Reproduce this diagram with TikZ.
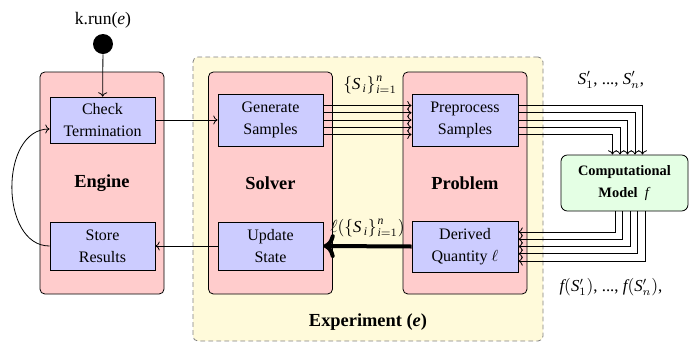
\documentclass[tikz,border=0pt]{standalone}
\usepackage{fontspec}
\setmainfont{Liberation Serif}
\usetikzlibrary{calc,arrows.meta}
\definecolor{cpink}{RGB}{255,204,204}
\definecolor{cblue}{RGB}{204,204,255}
\definecolor{cyel}{RGB}{255,250,218}
\definecolor{cgreen}{RGB}{228,255,228}
\def\pxu{0.625pt}
\newcommand{\supn}{^{\raisebox{1pt}{$\scriptstyle\mathit{n}$}}}
\begin{document}
\begin{tikzpicture}[x=0.625pt,y=-0.625pt,
  every node/.style={font=\fontsize{10}{13.5}\selectfont},
  expbox/.style={draw=black!50, dashed, dash pattern=on 3pt off 2pt, line width=0.5pt, fill=cyel, rounded corners=3pt, minimum width=350*\pxu, minimum height=284*\pxu, inner sep=0pt},
  container/.style={draw, line width=0.5pt, fill=cpink, rounded corners=3pt, minimum width=124*\pxu, minimum height=222*\pxu, inner sep=0pt, font=\bfseries\fontsize{11.5}{14}\selectfont},
  task/.style={draw, line width=0.5pt, fill=cblue, minimum width=105*\pxu, minimum height=48*\pxu, inner sep=1pt, align=center},
  model/.style={draw, line width=0.5pt, fill=cgreen, rounded corners=4pt, minimum width=127*\pxu, minimum height=56*\pxu, inner sep=1pt, align=center, font=\bfseries\fontsize{9}{13.5}\selectfont},
  startdot/.style={circle, fill=black, minimum size=20*\pxu, inner sep=0pt},
  conn/.style={->, line width=0.5pt},
  lbl/.style={font=\fontsize{10.5}{13}\selectfont, inner sep=0pt}
]
\useasboundingbox (0,0) rectangle (700,344);
% containers
\node[expbox] (exp) at (368,199) {};
\node[font=\bfseries\fontsize{11.5}{14}\selectfont] (explbl) at (368,322) {Experiment (\textit{e})};
\node[container] (engine) at (102,183) {Engine};
\node[container] (solver) at (270.5,183) {Solver};
\node[container] (problem) at (465,183) {Problem};
% tasks
\node[task, minimum height=46*\pxu] (check) at (102.5,120) {Check\\Termination};
\node[task, minimum height=52*\pxu] (gen) at (270.5,120) {Generate\\Samples};
\node[task, minimum height=52*\pxu, minimum width=106*\pxu] (prep) at (465,120) {Preprocess\\Samples};
\node[task] (store) at (102.5,246) {Store\\Results};
\node[task] (update) at (270.5,246) {Update\\State};
\node[task, minimum height=51*\pxu, minimum width=106*\pxu] (derived) at (465,246.5) {Derived\\Quantity $\ell$};
\node[model] (comp) at (624.5,183) {Computational\\Model \ \textmd{\textit{f}}};
% start
\node[startdot] (start) at (103,44) {};
\node[lbl, font=\fontsize{11}{13}\selectfont] (krun) at (103,20) {k.run(\textit{e})};
% labels
\node[lbl] (slbl) at (370,85) {$\{\mathit{S}_{\,\mathit{i}}\}\mkern1mu\supn_{\mathit{i}=1}$};
\node[lbl] (elllbl) at (367.5,228) {$\ell(\{\mathit{S}_{\,\mathit{i}}\}\mkern1mu\supn_{\mathit{i}=1})$};
\node[lbl] (splbl) at (611,80) {$\mathit{S}'_1$, ..., $\mathit{S}'_n$,};
\node[lbl] (fslbl) at (611,287) {$\mathit{f}(\mathit{S}'_1)$, ..., $\mathit{f}(\mathit{S}'_n)$,};
% connectors
\draw[conn] (start) -- (check);
\draw[conn] (check.east) -- (gen.west);
\foreach \k in {-14.5,-7.25,0,7.25,14.5}
  \draw[conn] ($(gen.east)+(0,\k)$) -- ($(prep.west)+(0,\k)$);
\foreach \k/\d in {-14.5/18,-7.25/10.5,0/3,7.25/-4.5,14.5/-12}
  \draw[conn] ($(prep.east)+(0,\k)$) -| ($(comp.north)+(\d,0)$);
\foreach \d/\k in {-9/-14.6,-2/-7.3,5.5/0,13/7.3,20.5/14.6}
  \draw[conn] ($(comp.south)+(\d,0)$) |- ($(derived.east)+(0,\k)$);
\draw[->, line width=2.5pt] (derived.west) -- (update.east);
\draw[conn] (update.west) -- (store.east);
\draw[conn] (store.west) to[out=180,in=180,looseness=1.1] ($(check.west)+(0,9)$);
\end{tikzpicture}
\end{document}
